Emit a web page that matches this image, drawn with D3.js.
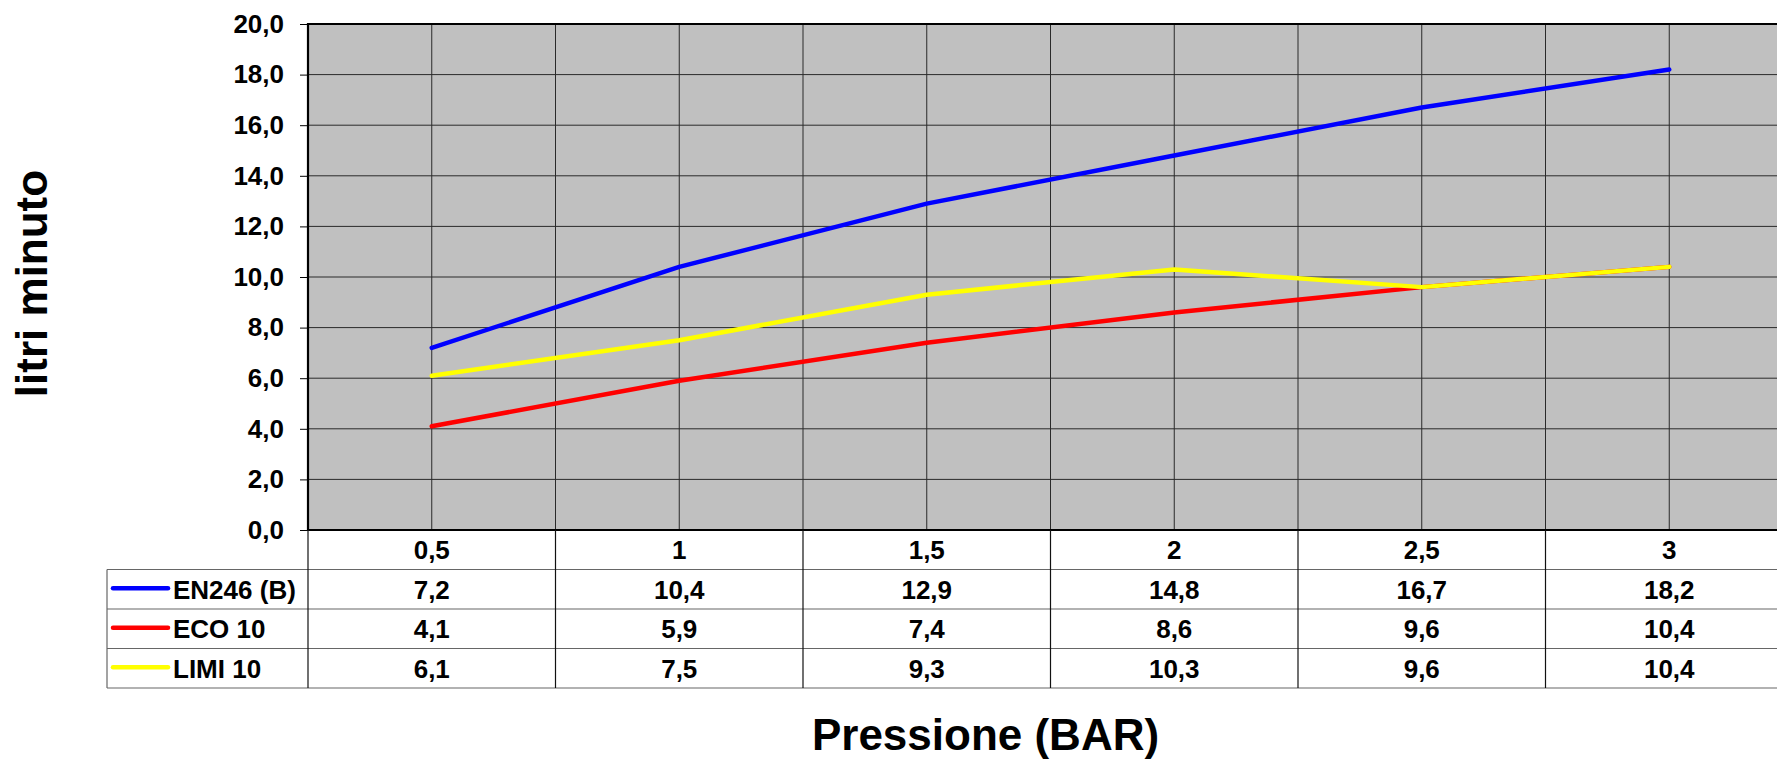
<!DOCTYPE html>
<html>
<head>
<meta charset="utf-8">
<script src="https://cdn.jsdelivr.net/npm/d3@7"></script>
<style>
  html, body { margin: 0; padding: 0; background: #fff; overflow: hidden; }
  svg text { font-family: "Liberation Sans", Arial, sans-serif; font-weight: bold; fill: #000; }
</style>
</head>
<body>
<div id="chart"></div>
<script>
// chart data
const categories = ["0,5", "1", "1,5", "2", "2,5", "3"];
const seriesNames = ["EN246 (B)", "ECO 10", "LIMI 10"];
const en246 = [7.2, 10.4, 12.9, 14.8, 16.7, 18.2];
const eco10 = [4.1, 5.9, 7.4, 8.6, 9.6, 10.4];
const limi10 = [6.1, 7.5, 9.3, 10.3, 9.6, 10.4];
const yTicks = [0, 2, 4, 6, 8, 10, 12, 14, 16, 18, 20];

const colors = ["#0000FF", "#FF0000", "#FFFF00"];
const series = [en246, eco10, limi10];

const width = 1777, height = 761;
const plot = { left: 308, right: 1793, top: 24, bottom: 530 };
const tableLeft = 107;
const rowH = 39.5;

const svg = d3.select("#chart").append("svg")
    .attr("width", width)
    .attr("height", height);

const x = d3.scaleBand()
    .domain(categories)
    .range([plot.left, plot.right])
    .paddingInner(0)
    .paddingOuter(0);
const bw = x.bandwidth();
const cx = c => x(c) + bw / 2;

const y = d3.scaleLinear()
    .domain([0, 20])
    .range([plot.bottom, plot.top]);

const fmt = v => v.toFixed(1).replace(".", ",");

// plot background
svg.append("rect")
    .attr("x", plot.left)
    .attr("y", plot.top)
    .attr("width", plot.right - plot.left)
    .attr("height", plot.bottom - plot.top)
    .attr("fill", "#C0C0C0");

// horizontal gridlines
svg.append("g")
    .selectAll("line")
    .data(yTicks.slice(1, -1))
    .join("line")
    .attr("x1", plot.left)
    .attr("x2", plot.right)
    .attr("y1", d => y(d))
    .attr("y2", d => y(d))
    .attr("stroke", "#2a2a2a")
    .attr("stroke-width", 1);

// vertical gridlines (band edges and centers)
const vlines = [];
categories.forEach((c, i) => {
    if (i > 0) vlines.push(x(c));
    vlines.push(cx(c));
});
svg.append("g")
    .selectAll("line")
    .data(vlines)
    .join("line")
    .attr("x1", d => d)
    .attr("x2", d => d)
    .attr("y1", plot.top)
    .attr("y2", plot.bottom)
    .attr("stroke", "#2a2a2a")
    .attr("stroke-width", 1);

// y axis
const yAxis = svg.append("g")
    .attr("transform", `translate(${plot.left},0)`)
    .call(d3.axisLeft(y)
        .tickValues(yTicks)
        .tickFormat(fmt)
        .tickSize(8)
        .tickPadding(16));
yAxis.select(".domain").remove();
yAxis.selectAll(".tick line").attr("stroke", "#000");
yAxis.selectAll(".tick text")
    .style("font-size", "26px")
    .style("font-family", "'Liberation Sans', Arial, sans-serif")
    .style("font-weight", "bold");

// series lines
const line = d3.line()
    .x((d, i) => cx(categories[i]))
    .y(d => y(d));

svg.append("g")
    .selectAll("path")
    .data(series)
    .join("path")
    .attr("d", d => line(d))
    .attr("fill", "none")
    .attr("stroke", (d, i) => colors[i])
    .attr("stroke-width", 4.5)
    .attr("stroke-linecap", "round")
    .attr("stroke-linejoin", "round");

// plot border (top, left, bottom)
svg.append("path")
    .attr("d", `M${plot.right + 5},${plot.top} H${plot.left} V${plot.bottom} H${plot.right + 5}`)
    .attr("fill", "none")
    .attr("stroke", "#000")
    .attr("stroke-width", 2.2);

// data table
const table = svg.append("g");
const tableBottom = plot.bottom + rowH * 4;

// horizontal rules
table.selectAll("line.h")
    .data([1, 2, 3, 4])
    .join("line")
    .attr("class", "h")
    .attr("x1", tableLeft)
    .attr("x2", plot.right)
    .attr("y1", d => plot.bottom + d * rowH)
    .attr("y2", d => plot.bottom + d * rowH)
    .attr("stroke", "#666")
    .attr("stroke-width", 1.2);

// vertical rules
table.selectAll("line.v")
    .data(categories)
    .join("line")
    .attr("class", "v")
    .attr("x1", d => x(d))
    .attr("x2", d => x(d))
    .attr("y1", plot.bottom)
    .attr("y2", tableBottom)
    .attr("stroke", "#111")
    .attr("stroke-width", 1.2);

table.append("line")
    .attr("x1", tableLeft)
    .attr("x2", tableLeft)
    .attr("y1", plot.bottom + rowH)
    .attr("y2", tableBottom)
    .attr("stroke", "#666")
    .attr("stroke-width", 1.2);

// header row: categories
table.selectAll("text.cat")
    .data(categories)
    .join("text")
    .attr("class", "cat")
    .attr("x", d => cx(d))
    .attr("y", plot.bottom + rowH / 2 + 9.3)
    .attr("text-anchor", "middle")
    .style("font-size", "26px")
    .text(d => d);

// series rows
series.forEach((vals, r) => {
    const rowMid = plot.bottom + rowH * (r + 1) + rowH / 2;
    table.append("line")
        .attr("x1", 113)
        .attr("x2", 168)
        .attr("y1", rowMid - 1)
        .attr("y2", rowMid - 1)
        .attr("stroke", colors[r])
        .attr("stroke-width", 4.5)
        .attr("stroke-linecap", "round");
    table.append("text")
        .attr("x", 173)
        .attr("y", rowMid + 9.3)
        .style("font-size", "26px")
        .text(seriesNames[r]);
    table.selectAll(null)
        .data(vals)
        .join("text")
        .attr("x", (d, i) => cx(categories[i]))
        .attr("y", rowMid + 9.3)
        .attr("text-anchor", "middle")
        .style("font-size", "26px")
        .text(d => fmt(d));
});

// axis titles
svg.append("text")
    .attr("transform", "translate(47,283.5) rotate(-90)")
    .attr("text-anchor", "middle")
    .style("font-size", "44px")
    .text("litri minuto");

svg.append("text")
    .attr("x", 985.5)
    .attr("y", 750)
    .attr("text-anchor", "middle")
    .style("font-size", "44px")
    .text("Pressione (BAR)");
</script>
</body>
</html>
